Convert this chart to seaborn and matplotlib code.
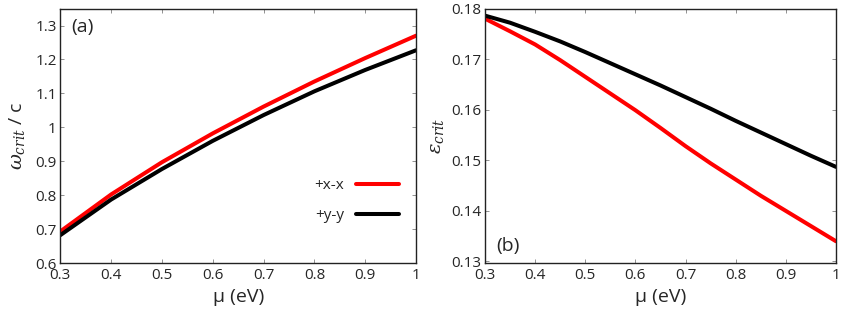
import numpy as np
import pandas as pd
import seaborn as sns
import matplotlib
matplotlib.use("Agg")
import matplotlib.pyplot as plt
from matplotlib.ticker import FormatStrFormatter, FuncFormatter
from matplotlib.lines import Line2D

# panel (a)
mu_a = [0.3, 0.4, 0.5, 0.6, 0.7, 0.8, 0.9, 1.0]
omega_xx = [0.693, 0.802, 0.897, 0.982, 1.061, 1.135, 1.204, 1.270]
omega_yy = [0.682, 0.787, 0.877, 0.960, 1.036, 1.106, 1.169, 1.227]

# panel (b)
mu_b = [0.30, 0.35, 0.40, 0.45, 0.50, 0.55, 0.60, 0.65,
        0.70, 0.75, 0.80, 0.85, 0.90, 0.95, 1.00]
eps_xx = [0.1780, 0.1755, 0.1729, 0.1698, 0.1665, 0.1632, 0.1599, 0.1564,
          0.1528, 0.1494, 0.1462, 0.1430, 0.1400, 0.1370, 0.1340]
eps_yy = [0.1786, 0.1772, 0.1754, 0.1735, 0.1714, 0.1692, 0.1670, 0.1648,
          0.1625, 0.1602, 0.1578, 0.1555, 0.1532, 0.1509, 0.1487]

series = ["+x-x", "+y-y"]
colors = {"+x-x": "#ff0000", "+y-y": "#000000"}
xticks = [0.3, 0.4, 0.5, 0.6, 0.7, 0.8, 0.9, 1.0]
yticks_a = [0.6, 0.7, 0.8, 0.9, 1.0, 1.1, 1.2, 1.3]
yticks_b = [0.13, 0.14, 0.15, 0.16, 0.17, 0.18]

sns.set_style("ticks")
plt.rcParams['font.family'] = ['Open Sans', 'DejaVu Sans']
plt.rcParams['mathtext.fontset'] = 'dejavuserif'

df_a = pd.DataFrame({"mu": mu_a * 2, "val": omega_xx + omega_yy,
                     "s": [series[0]] * len(mu_a) + [series[1]] * len(mu_a)})
df_b = pd.DataFrame({"mu": mu_b * 2, "val": eps_xx + eps_yy,
                     "s": [series[0]] * len(mu_b) + [series[1]] * len(mu_b)})

fig = plt.figure(figsize=(8.43, 3.13), dpi=100)
ax1 = fig.add_axes([0.0715, 0.1597, 0.422, 0.813])
ax2 = fig.add_axes([0.5753, 0.1597, 0.4164, 0.813])

lw = 2.9
sns.lineplot(data=df_a, x="mu", y="val", hue="s", palette=colors, ax=ax1,
             linewidth=lw, legend=False)
sns.lineplot(data=df_b, x="mu", y="val", hue="s", palette=colors, ax=ax2,
             linewidth=lw, legend=False)

fmt = FuncFormatter(lambda v, p: f"{v:g}")
for ax in (ax1, ax2):
    ax.set_xlim(0.3, 1.0)
    ax.set_xticks(xticks)
    ax.xaxis.set_major_formatter(fmt)
    ax.tick_params(direction='in', length=3, width=0.6, color='#808080',
                   labelsize=11, top=True, right=True, pad=2.5)
    ax.tick_params(axis='x', pad=3.5)
    for sp in ax.spines.values():
        sp.set_linewidth(1.0)
        sp.set_color('#222222')
    ax.set_xlabel("μ (eV)", fontsize=14, labelpad=4)

ax1.set_ylim(0.6, 1.35)
ax1.set_yticks(yticks_a)
ax1.yaxis.set_major_formatter(fmt)
ax1.set_ylabel(r"$\omega_{crit}$ / c", fontsize=14, labelpad=6)

ax2.set_ylim(0.1297, 0.18)
ax2.set_yticks(yticks_b)
ax2.yaxis.set_major_formatter(FormatStrFormatter('%.2f'))
ax2.set_ylabel(r"$\varepsilon_{crit}$", fontsize=14, labelpad=4)

handles = [Line2D([], [], color=colors[s], linewidth=lw) for s in series]
ax1.legend(handles, series, loc='center right', bbox_to_anchor=(0.99, 0.245),
           frameon=False, markerfirst=False, handlelength=2.8, fontsize=11,
           labelspacing=1.0, handletextpad=0.8)

ax1.text(0.03, 0.928, "(a)", transform=ax1.transAxes, fontsize=14, va='center')
ax2.text(0.031, 0.067, "(b)", transform=ax2.transAxes, fontsize=14, va='center')

fig.savefig("out.png", dpi=100)
